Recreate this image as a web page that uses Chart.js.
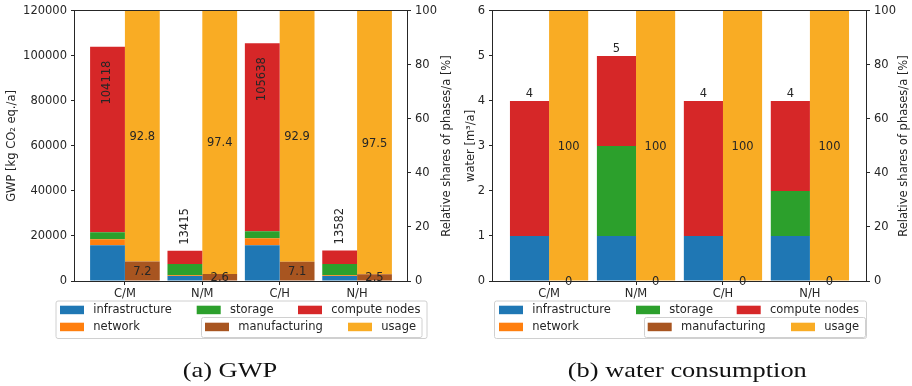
<!DOCTYPE html>
<html>
<head>
<meta charset="utf-8">
<script src="https://cdn.jsdelivr.net/npm/chart.js@4.4.0/dist/chart.umd.min.js"></script>
<style>
  html, body { margin: 0; padding: 0; background: #fff; }
  #wrap { position: relative; width: 912px; height: 386px; }
  canvas { position: absolute; top: 0; }
</style>
</head>
<body>
<div id="wrap">
  <canvas id="gwpChart" width="456" height="386" style="left:0"></canvas>
  <canvas id="waterChart" width="456" height="386" style="left:456px"></canvas>
</div>
<script>
const categories = ['C/M', 'N/M', 'C/H', 'N/H'];

// (a) GWP in kg CO2 eq./a
const gwpInfrastructure = [15900, 2200, 15900, 2200];
const gwpNetwork = [2700, 400, 3100, 400];
const gwpStorage = [3100, 5000, 3100, 4900];
const gwpCompute = [82418, 5815, 83538, 6082];
// relative shares of phases in %
const gwpManufacturing = [7.2, 2.6, 7.1, 2.5];
const gwpUsage = [92.8, 97.4, 92.9, 97.5];
const gwpTicks = [0, 20000, 40000, 60000, 80000, 100000, 120000];

// (b) water consumption in m3/a
const waterInfrastructure = [1, 1, 1, 1];
const waterNetwork = [0, 0, 0, 0];
const waterStorage = [0, 2, 0, 1];
const waterCompute = [3, 2, 3, 2];
const waterManufacturing = [0, 0, 0, 0];
const waterUsage = [100, 100, 100, 100];
const waterTicks = [0, 1, 2, 3, 4, 5, 6];

const shareTicks = [0, 20, 40, 60, 80, 100];

const colors = {
    infrastructure: '#1f77b4',
    network: '#ff7f0e',
    storage: '#2ca02c',
    compute: '#d62728',
    manufacturing: '#a85520',
    usage: '#f9ac24'
};
const textColor = '#262626';
const font = 'DejaVu Sans';

function bars(label, values, color, stack, axis) {
    return {
        label: label,
        data: values.map((v, i) => ({ x: i, y: v })),
        backgroundColor: color,
        borderWidth: 0,
        stack: stack,
        yAxisID: axis,
        categoryPercentage: 0.9,
        barPercentage: 1.0
    };
}

const barLabels = {
    id: 'barLabels',
    afterDatasetsDraw(chart, args, opts) {
        const ctx = chart.ctx;
        const ds = chart.data.datasets;
        ctx.save();
        ctx.fillStyle = textColor;
        ctx.font = `11.5px "${font}"`;

        // totals on top of the absolute stack
        const top = chart.getDatasetMeta(3);
        top.data.forEach((bar, i) => {
            const total = ds.slice(0, 4).reduce((s, d) => s + d.data[i].y, 0);
            const txt = String(Math.round(total));
            if (opts.rotated) {
                const w = ctx.measureText(txt).width;
                ctx.save();
                ctx.translate(bar.x, bar.y);
                ctx.rotate(-Math.PI / 2);
                ctx.textBaseline = 'middle';
                if (bar.y - 6 - w < chart.chartArea.top) {
                    ctx.textAlign = 'right';
                    ctx.fillText(txt, -14, 0);
                } else {
                    ctx.textAlign = 'left';
                    ctx.fillText(txt, 6, 0);
                }
                ctx.restore();
            } else {
                ctx.textAlign = 'center';
                ctx.textBaseline = 'bottom';
                ctx.fillText(txt, bar.x, bar.y - 1);
            }
        });

        // shares in the middle of each phase segment
        [4, 5].forEach(k => {
            chart.getDatasetMeta(k).data.forEach((bar, i) => {
                ctx.textAlign = 'center';
                ctx.textBaseline = 'middle';
                ctx.fillText(ds[k].data[i].y.toFixed(opts.digits), bar.x, (bar.y + bar.base) / 2 + 1);
            });
        });
        ctx.restore();
    },
    afterDraw(chart, args, opts) {
        const ctx = chart.ctx;
        const a = chart.chartArea;
        ctx.save();
        // frame
        ctx.strokeStyle = textColor;
        ctx.lineWidth = 1;
        ctx.strokeRect(Math.round(a.left) - 0.5, Math.round(a.top) - 0.5,
            Math.round(a.right - a.left) + 1, Math.round(a.bottom - a.top) + 1);

        // axis titles
        ctx.fillStyle = textColor;
        ctx.font = `11.5px "${font}"`;
        ctx.textAlign = 'center';
        ctx.textBaseline = 'middle';
        const cy = (a.top + a.bottom) / 2;
        [[opts.leftTitleX, opts.leftTitle], [opts.rightTitleX, 'Relative shares of phases/a [%]']].forEach(([x, t]) => {
            ctx.save();
            ctx.translate(x, cy);
            ctx.rotate(-Math.PI / 2);
            ctx.fillText(t, 0, 0);
            ctx.restore();
        });

        // legend: two overlapping boxes as in the original
        const ds = chart.data.datasets;
        const L = opts.legend;
        const box = (x, y, w, h) => {
            ctx.beginPath();
            ctx.roundRect(x + 0.5, y + 0.5, w, h, 2);
            ctx.fillStyle = 'rgba(255,255,255,0.85)';
            ctx.fill();
            ctx.strokeStyle = '#d0d0d0';
            ctx.stroke();
        };
        const rows = [305.7, 322.7];
        const entry = (k, x, row) => {
            ctx.fillStyle = ds[k].backgroundColor;
            ctx.fillRect(x, rows[row], 24, 8.5);
            ctx.fillStyle = textColor;
            ctx.textAlign = 'left';
            ctx.textBaseline = 'middle';
            ctx.fillText(ds[k].label, x + 33.3, rows[row] + 4.8);
        };
        box(L.box1[0], 300.5, L.box1[1], 37.5);
        entry(0, L.items[0], 0);
        entry(1, L.items[0], 1);
        entry(2, L.items[1], 0);
        entry(3, L.items[2], 0);
        box(L.box2[0], 317, L.box2[1], 20);
        entry(4, L.items[3], 1);
        entry(5, L.items[4], 1);

        // caption
        ctx.fillStyle = '#111';
        ctx.font = '22px "Liberation Serif"';
        ctx.textAlign = 'center';
        ctx.textBaseline = 'middle';
        ctx.translate(opts.captionX, 371);
        ctx.scale(1.2, 1);
        ctx.fillText(opts.caption, 0, 0);
        ctx.restore();
    }
};

function makeChart(id, sets, yTicks, leftWidth, rightWidth, labelOpts) {
    const tickFont = { family: font, size: 11.5 };
    const grid = { drawOnChartArea: false, tickLength: 4, color: textColor, offset: false };
    return new Chart(document.getElementById(id), {
        type: 'bar',
        data: {
            datasets: [
                bars('infrastructure', sets[0], colors.infrastructure, 'abs', 'y'),
                bars('network', sets[1], colors.network, 'abs', 'y'),
                bars('storage', sets[2], colors.storage, 'abs', 'y'),
                bars('compute nodes', sets[3], colors.compute, 'abs', 'y'),
                bars('manufacturing', sets[4], colors.manufacturing, 'rel', 'y1'),
                bars('usage', sets[5], colors.usage, 'rel', 'y1')
            ]
        },
        options: {
            responsive: false,
            animation: false,
            events: [],
            layout: { padding: { left: 0, right: 0, top: 10, bottom: 85 } },
            plugins: {
                legend: { display: false },
                tooltip: { enabled: false },
                barLabels: labelOpts
            },
            scales: {
                x: {
                    type: 'linear',
                    min: -0.645,
                    max: 3.645,
                    offset: false,
                    stacked: true,
                    grid: grid,
                    border: { display: false },
                    afterBuildTicks: s => { s.ticks = categories.map((c, i) => ({ value: i })); },
                    afterFit: s => { s.height = 20; },
                    ticks: {
                        autoSkip: false, maxRotation: 0, padding: 2,
                        color: textColor, font: tickFont,
                        callback: (v, i) => categories[i]
                    }
                },
                y: {
                    position: 'left',
                    stacked: true,
                    min: yTicks[0],
                    max: yTicks[yTicks.length - 1],
                    grid: grid,
                    border: { display: false },
                    afterBuildTicks: s => { s.ticks = yTicks.map(v => ({ value: v })); },
                    afterFit: s => { s.width = leftWidth; },
                    ticks: { padding: 4, color: textColor, font: tickFont, callback: v => String(v) }
                },
                y1: {
                    position: 'right',
                    stacked: true,
                    min: 0,
                    max: 100,
                    grid: grid,
                    border: { display: false },
                    afterBuildTicks: s => { s.ticks = shareTicks.map(v => ({ value: v })); },
                    afterFit: s => { s.width = rightWidth; },
                    ticks: { padding: 4, color: textColor, font: tickFont, callback: v => String(v) }
                }
            }
        },
        plugins: [barLabels]
    });
}

makeChart('gwpChart',
    [gwpInfrastructure, gwpNetwork, gwpStorage, gwpCompute, gwpManufacturing, gwpUsage],
    gwpTicks, 75, 49, {
        rotated: true, digits: 1,
        leftTitle: 'GWP [kg CO\u2082 eq./a]', leftTitleX: 11.7, rightTitleX: 447,
        legend: { box1: [55.5, 371], box2: [201, 220.5], items: [60, 196.7, 298, 205, 348] },
        caption: '(a) GWP', captionX: 230
    });

makeChart('waterChart',
    [waterInfrastructure, waterNetwork, waterStorage, waterCompute, waterManufacturing, waterUsage],
    waterTicks, 37, 46, {
        rotated: false, digits: 0,
        leftTitle: 'water [m\u00b3/a]', leftTitleX: 15, rightTitleX: 448,
        legend: { box1: [38, 372], box2: [188, 221], items: [43, 180, 280.7, 191.7, 335] },
        caption: '(b) water consumption', captionX: 231.3
    });
</script>
</body>
</html>
